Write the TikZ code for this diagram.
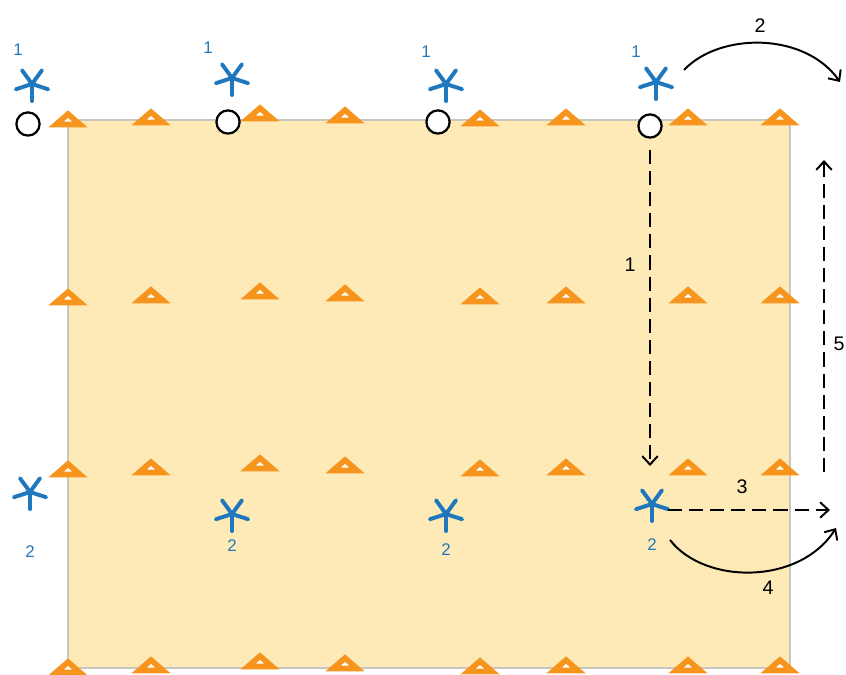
\documentclass[tikz,border=0pt]{standalone}
\usepackage{fontspec}
\setmainfont{Liberation Sans}
\usetikzlibrary{shapes.geometric,arrows.meta}
\definecolor{plotfill}{HTML}{FDEAB6}
\definecolor{plotedge}{HTML}{C9C6C0}
\definecolor{markorange}{HTML}{F7941E}
\definecolor{treeblue}{HTML}{1F78BE}
\tikzset{
  marker/.style={isosceles triangle, shape border rotate=90, isosceles triangle stretches,
    minimum width=0.6cm, minimum height=0.26cm, inner sep=0pt, draw=markorange, fill=white,
    line width=4pt},
  ring/.style={circle, draw=black, fill=white, line width=1.6pt, minimum size=0.58cm, inner sep=0pt},
  spoke/.style={treeblue, line width=2.8pt, line cap=round},
  bluenum/.style={text=treeblue, font=\fontsize{12}{14}\selectfont, inner sep=0pt},
  stepnum/.style={font=\fontsize{14}{16}\selectfont, inner sep=0pt},
  move/.style={line width=1.4pt, -{Straight Barb[length=6pt,width=11pt]}},
  dashmove/.style={move, dash pattern=on 10pt off 5pt},
}
\begin{document}
\begin{tikzpicture}[x=0.025cm, y=-0.025cm]
\useasboundingbox (0,0) rectangle (846,675);
% plot
\draw[plotedge, fill=plotfill, line width=1.2pt] (68,120) rectangle (790,668);
% markers
\foreach \r/\y in {1/118, 2/296, 3/468, 4/666}{
  \foreach \c/\x/\dy in {1/68/2, 2/151/0, 3/260/-4, 4/345/-2, 5/480/1, 6/566/0, 7/688/0, 8/780/0}{
    \node[marker] (m-\r-\c) at (\x,\y+\dy) {};
  }
}
% circles
\node[ring] (c1) at (28,124) {};
\node[ring] (c2) at (228,122) {};
\node[ring] (c3) at (438,122) {};
\node[ring] (c4) at (650,126) {};
% trees
\foreach \n/\x/\y in {1/32/84, 2/232/78, 3/446/84, 4/656/82, 5/30/492, 6/232/514, 7/446/514, 8/652/504}{
  \coordinate (s\n) at (\x,\y);
  \foreach \a in {-90,-18,54,126,198}
    \draw[spoke] (s\n) -- ++(\a:-17);
}
\node[bluenum] (n1) at (18,50) {1};
\node[bluenum] (n2) at (208,48) {1};
\node[bluenum] (n3) at (426,52) {1};
\node[bluenum] (n4) at (636,52) {1};
\node[bluenum] (n5) at (30,552) {2};
\node[bluenum] (n6) at (232,546) {2};
\node[bluenum] (n7) at (446,550) {2};
\node[bluenum] (n8) at (652,545) {2};
% moves
\coordinate (e1) at (650,466);
\coordinate (a2) at (684,70);
\coordinate (e2) at (840,82);
\coordinate (e3) at (830,510);
\coordinate (a4) at (670,540);
\coordinate (e4) at (836,528);
\coordinate (a5) at (824,472);
\coordinate (e5) at (824,160);
\draw[dashmove] (c4) ++(0,24) -- (e1);
\draw[move] (a2) .. controls (720,32) and (805,32) .. (e2);
\draw[dashmove] (s8) ++(16,6) -- (e3);
\draw[move] (a4) .. controls (705,585) and (800,585) .. (e4);
\draw[dashmove] (a5) -- (e5);
\node[stepnum] (l1) at (630,265) {1};
\node[stepnum] (l2) at (760,26) {2};
\node[stepnum] (l3) at (742,487) {3};
\node[stepnum] (l4) at (768,588) {4};
\node[stepnum] (l5) at (839,344) {5};
\end{tikzpicture}
\end{document}
